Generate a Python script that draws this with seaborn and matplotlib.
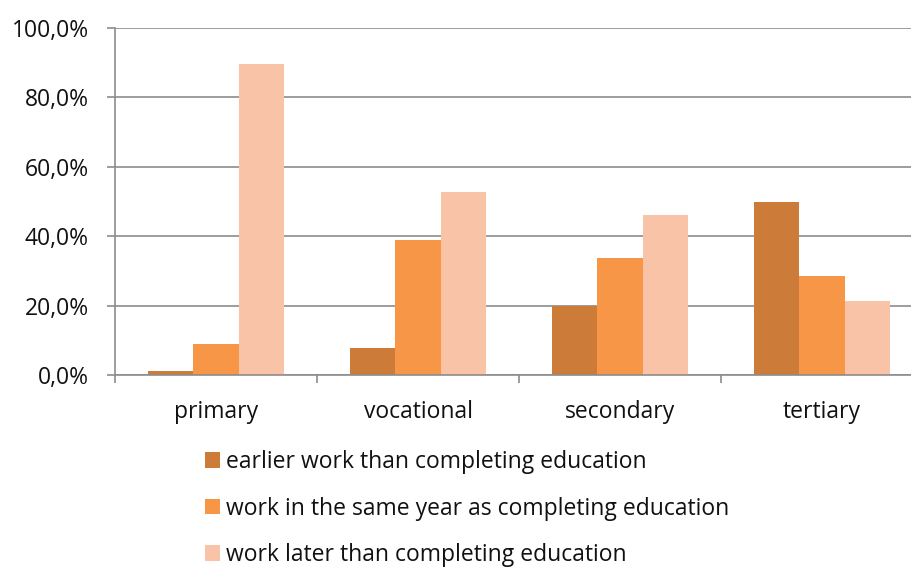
import matplotlib
matplotlib.use("Agg")
import matplotlib.pyplot as plt
import matplotlib.ticker as mticker
import seaborn as sns
import pandas as pd

categories = ["primary", "vocational", "secondary", "tertiary"]
series_names = [
    "earlier work than completing education",
    "work in the same year as completing education",
    "work later than completing education",
]
earlier = [1.2, 7.9, 20.0, 49.9]
same_year = [8.8, 39.0, 33.6, 28.4]
later = [89.6, 52.6, 46.2, 21.4]
colors = ["#CC7B38", "#F79646", "#F9C3A8"]
y_ticks = [0, 20, 40, 60, 80, 100]

rows = []
for name, vals in zip(series_names, [earlier, same_year, later]):
    for cat, v in zip(categories, vals):
        rows.append({"category": cat, "series": name, "value": v})
df = pd.DataFrame(rows)

sns.set_theme(style="white")
plt.rcParams["font.family"] = ["Open Sans", "DejaVu Sans"]

FS = 16.5
fig = plt.figure(figsize=(9.11, 5.69), dpi=100)
ax = fig.add_axes([115 / 911, 1 - 375 / 569, (923 - 115) / 911, (375 - 28) / 569])

sns.barplot(
    data=df, x="category", y="value", hue="series",
    order=categories, hue_order=series_names, palette=colors,
    width=0.67, gap=0, saturation=1, linewidth=0, ax=ax, legend=True,
)

grid_c = "#8C8C8C"
ax.set_ylim(0, 100)
ax.set_xlim(-0.5, len(categories) - 0.5)
ax.set_yticks(y_ticks)
ax.yaxis.set_major_formatter(mticker.FuncFormatter(lambda v, p: f"{v:.1f}".replace(".", ",") + "%"))
ax.yaxis.grid(True, color=grid_c, linewidth=1.2)
ax.set_axisbelow(True)
ax.set_xlabel("")
ax.set_ylabel("")

for side in ["top", "right"]:
    ax.spines[side].set_visible(False)
for side in ["left", "bottom"]:
    ax.spines[side].set_color(grid_c)
    ax.spines[side].set_linewidth(1.2)

ax.tick_params(axis="y", which="major", left=True, length=6, width=1.2, color=grid_c,
               pad=13, labelsize=FS, labelcolor="#111111")
ax.tick_params(axis="x", which="major", bottom=False, length=0, pad=18,
               labelsize=FS, labelcolor="#111111")
ax.set_xticks([i - 0.5 for i in range(len(categories) + 1)], minor=True)
ax.tick_params(axis="x", which="minor", bottom=True, length=6, width=1.2, color=grid_c)

handles, labels = ax.get_legend_handles_labels()
ax.get_legend().remove()
fig.legend(
    handles, labels, loc="upper left", bbox_to_anchor=(196 / 911, 1 - 441 / 569),
    frameon=False, fontsize=FS, handlelength=0.65, handleheight=0.65,
    handletextpad=0.25, labelspacing=0.98, borderaxespad=0, labelcolor="#111111",
)

fig.savefig("out.png", dpi=100)
